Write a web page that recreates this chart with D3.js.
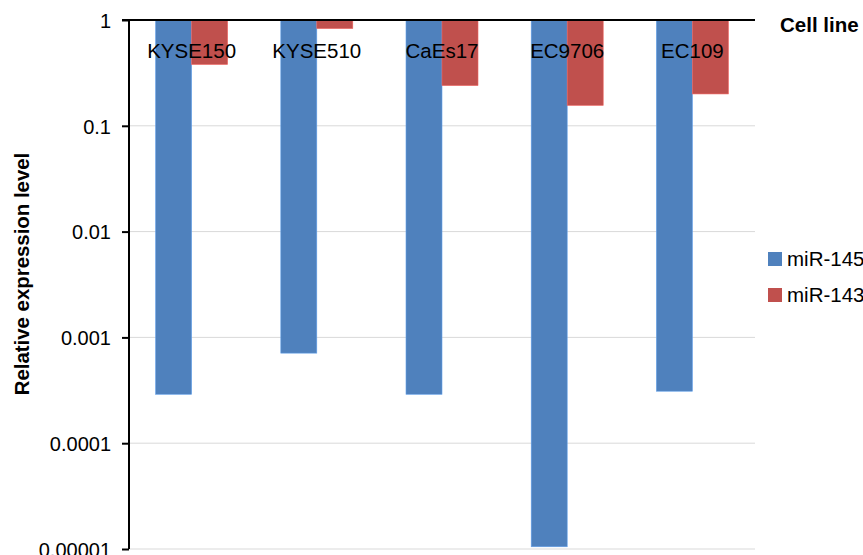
<!DOCTYPE html>
<html>
<head>
<meta charset="utf-8">
<script src="https://cdn.jsdelivr.net/npm/d3@7"></script>
<style>
  body { margin: 0; background: #fff; }
  text { font-family: "Liberation Sans", Arial, sans-serif; }
</style>
</head>
<body>
<div id="chart"></div>
<script>
// data
var cellLines = ["KYSE150", "KYSE510", "CaEs17", "EC9706", "EC109"];
var mir145 = [0.00029, 0.00071, 0.00029, 0.0000105, 0.00031];
var mir143 = [0.38, 0.83, 0.24, 0.156, 0.20];
var seriesNames = ["miR-145", "miR-143"];
var yTicks = [1, 0.1, 0.01, 0.001, 0.0001, 0.00001];
var yTickLabels = ["1", "0.1", "0.01", "0.001", "0.0001", "0.00001"];

var colors = ["#4F81BD", "#C0504D"];
var width = 863, height = 555;
var plotLeft = 129, plotRight = 755, plotTop = 20, plotBottom = 549;

var svg = d3.select("#chart")
            .append("svg")
            .attr("width", width)
            .attr("height", height)

var y = d3.scaleLog().domain([1, 0.00001]).range([plotTop, plotBottom]);
var x = d3.scaleBand().domain(cellLines).range([plotLeft, plotRight]);
var xs = d3.scaleBand().domain(seriesNames).range([0, 72]);

// gridlines
svg.append("g")
    .selectAll("line")
    .data(yTicks.slice(1))
    .enter()
    .append("line")
    .attr("x1", plotLeft).attr("x2", plotRight)
    .attr("y1", function(d) { return y(d) })
    .attr("y2", function(d) { return y(d) })
    .style("stroke", "#d9d9d9")
    .style("stroke-width", "1px");

// bars hang down from 1
var series = [mir145, mir143];
series.forEach(function(vals, si) {
    svg.append("g")
        .selectAll("rect")
        .data(vals)
        .enter()
        .append("rect")
        .attr("x", function(d, i) { return x(cellLines[i]) + x.bandwidth()/2 - 36 + xs(seriesNames[si]) })
        .attr("y", y(1))
        .attr("width", xs.bandwidth())
        .attr("height", function(d) { return y(d) - y(1) })
        .style("fill", colors[si])
        .style("stroke", d3.color(colors[si]).brighter(0.6))
        .style("stroke-width", "0.6px");
});

// y axis
var yAxis = d3.axisLeft(y)
    .tickValues(yTicks)
    .tickFormat(function(d, i) { return yTickLabels[i] })
    .tickSize(7)
    .tickPadding(11);

var ga = svg.append("g")
    .attr("transform", "translate(" + plotLeft + ",0)")
    .call(yAxis);
ga.select(".domain").attr("d", "M0," + plotTop + "V" + plotBottom).style("stroke", "#000").style("stroke-width", "2px");
ga.selectAll(".tick line").style("stroke", "#000").style("stroke-width", "2px");
ga.selectAll(".tick text")
    .style("font-size", "20px")
    .style("font-family", "Liberation Sans, Arial, sans-serif")
    .style("fill", "#000")
    .attr("dy", "0.36em");

// top axis line at 1
svg.append("line")
    .attr("x1", plotLeft - 7).attr("x2", plotRight)
    .attr("y1", y(1)).attr("y2", y(1))
    .style("stroke", "#000")
    .style("stroke-width", "2px");

// category labels
svg.append("g")
    .selectAll("text")
    .data(cellLines)
    .enter()
    .append("text")
    .attr("x", function(d) { return x(d) + x.bandwidth()/2 })
    .attr("y", 58)
    .attr("text-anchor", "middle")
    .style("font-size", "20.5px")
    .text(function(d) { return d });

svg.append("text")
    .attr("x", 780)
    .attr("y", 32)
    .style("font-size", "20.5px")
    .style("font-weight", "bold")
    .text("Cell line");

svg.append("text")
    .attr("transform", "translate(29,274) rotate(-90)")
    .attr("text-anchor", "middle")
    .style("font-size", "20.4px")
    .style("font-weight", "bold")
    .text("Relative expression level");

// legend
var leg = svg.append("g")
    .selectAll("g")
    .data(seriesNames)
    .enter()
    .append("g")
    .attr("transform", function(d, i) { return "translate(768," + (252 + i*36) + ")" });
leg.append("rect")
    .attr("width", 14).attr("height", 14)
    .style("fill", function(d, i) { return colors[i] });
leg.append("text")
    .attr("x", 19).attr("y", 14)
    .style("font-size", "20.5px")
    .text(function(d) { return d });
</script>
</body>
</html>
